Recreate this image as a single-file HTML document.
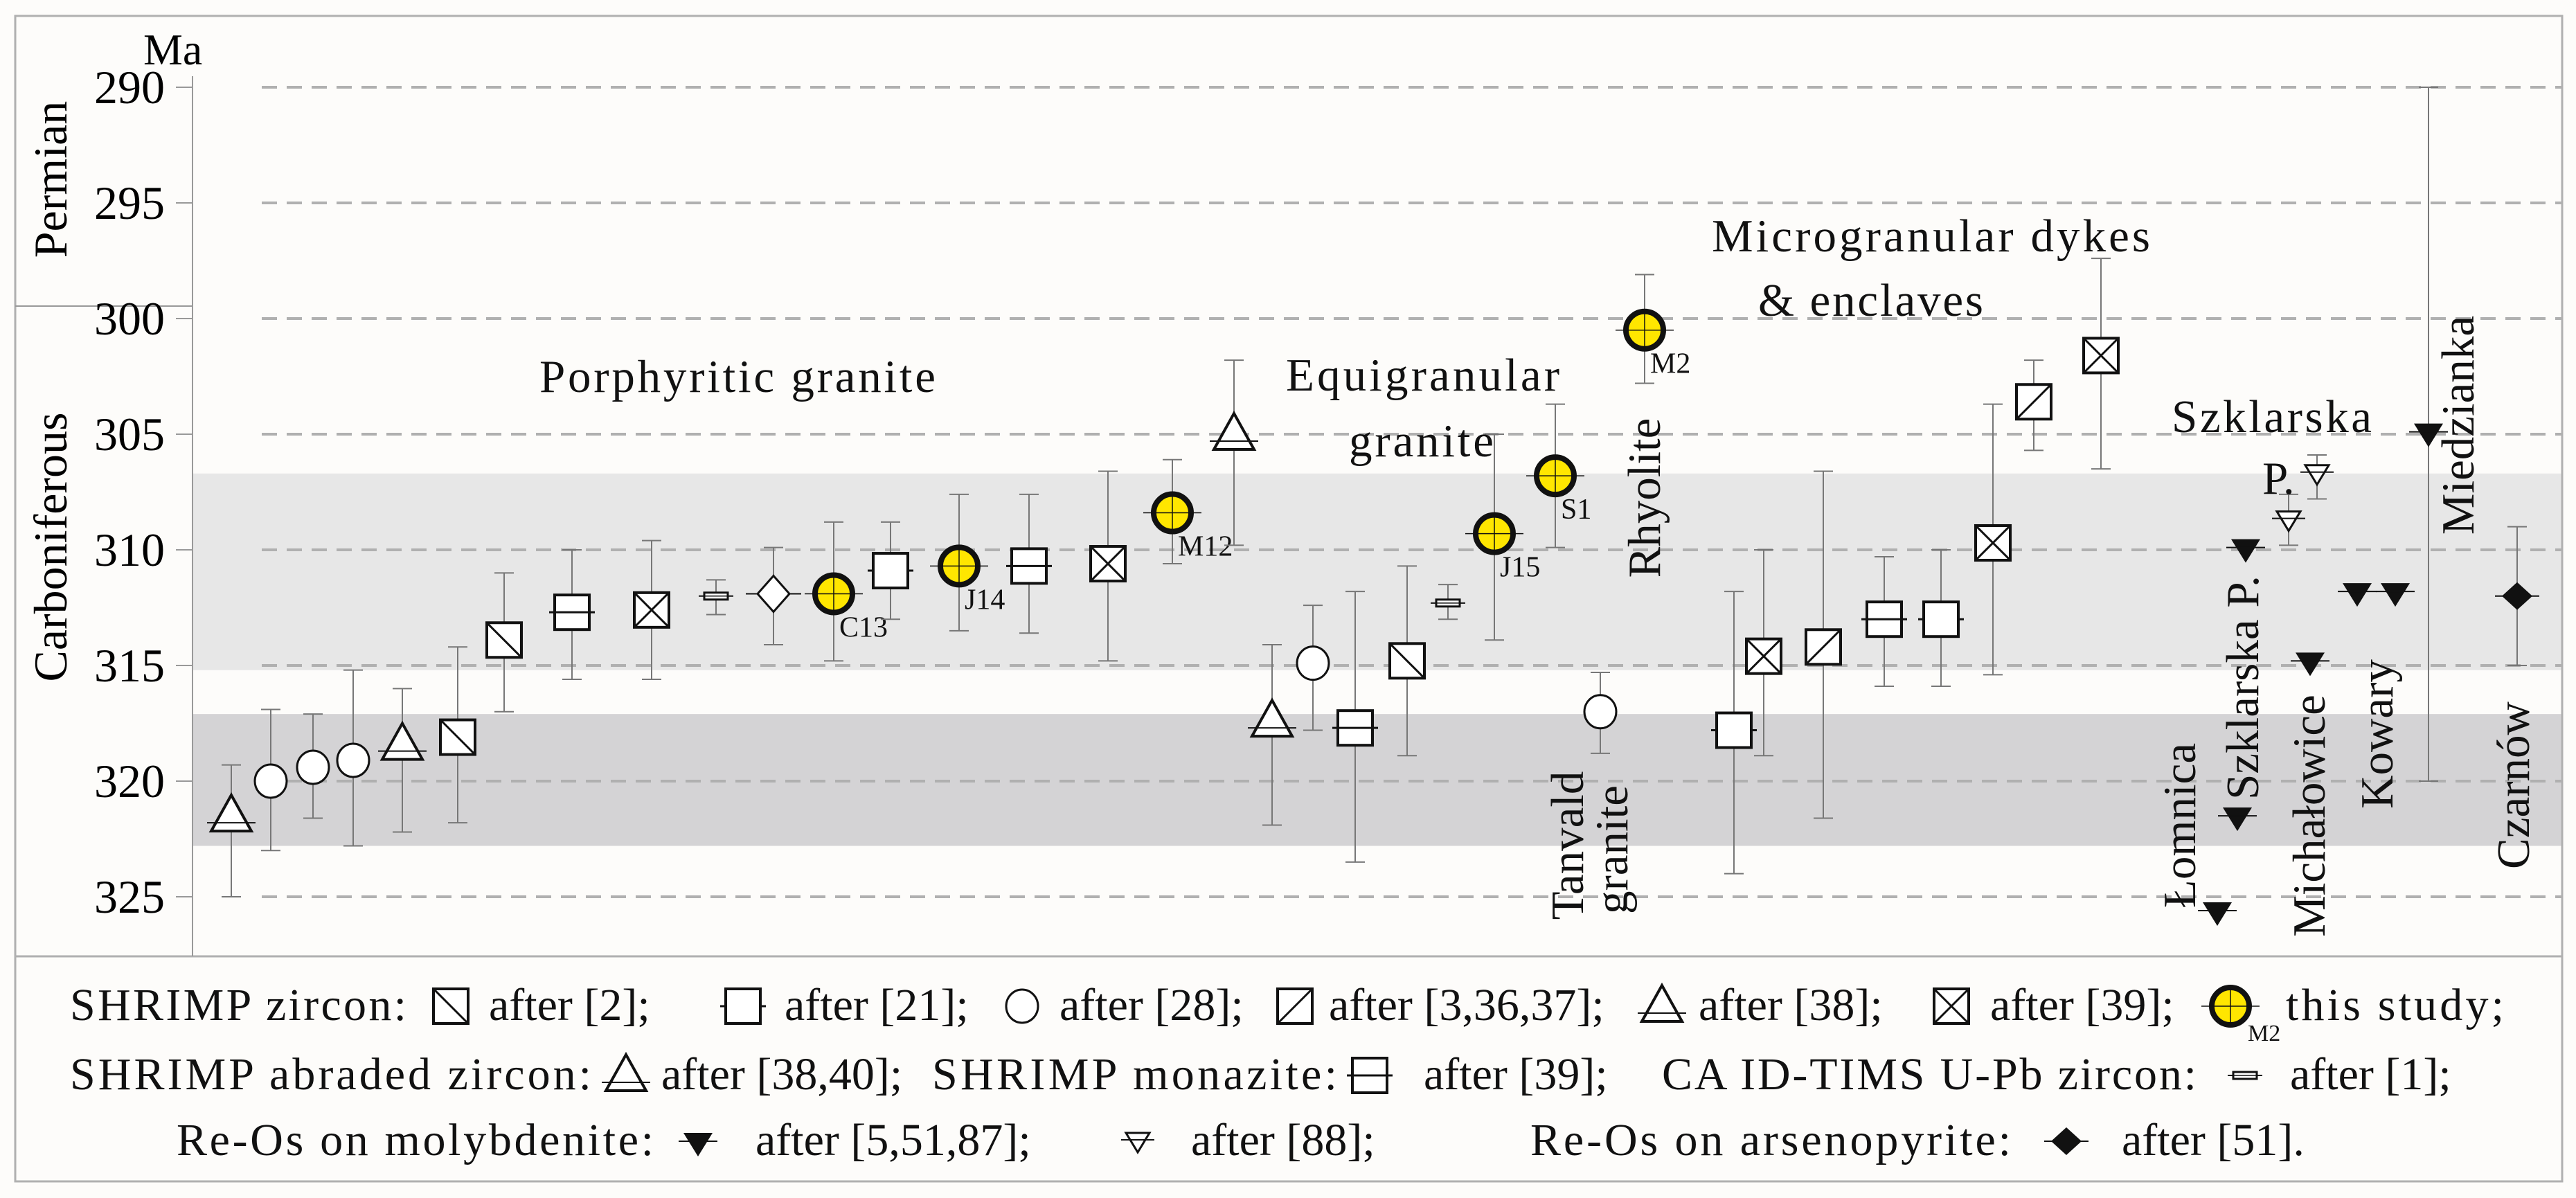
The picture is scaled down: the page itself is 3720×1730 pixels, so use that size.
<!DOCTYPE html>
<html><head><meta charset="utf-8"><style>
html,body{margin:0;padding:0;background:#fdfcfa;}
svg{display:block;font-family:"Liberation Serif",serif;}
</style></head><body>
<svg id="chart" width="3720" height="1730" viewBox="0 0 3720 1730" xmlns="http://www.w3.org/2000/svg">
<rect x="0" y="0" width="3720" height="1730" fill="#fdfcfa"/>
<g id="bands"></g>
<g id="grid"></g>
<g id="frame">
<rect x="22" y="23" width="3678" height="1683" fill="none" stroke="#b0b0b0" stroke-width="3"/>
<line x1="22" y1="1381" x2="3700" y2="1381" stroke="#b0b0b0" stroke-width="3"/>
<line x1="22" y1="442" x2="278" y2="442" stroke="#999" stroke-width="2"/>
<line x1="278" y1="110" x2="278" y2="1381" stroke="#999" stroke-width="2"/>
</g>
<text x="207" y="93" font-size="64">Ma</text>
<text transform="translate(96,259) rotate(-90)" text-anchor="middle" font-size="68">Permian</text>
<text transform="translate(96,790) rotate(-90)" text-anchor="middle" font-size="68">Carboniferous</text>
<g id="ticks"></g>
<g id="marks"></g>
<g id="labels" font-size="67" fill="#111">
<text x="779" y="566" textLength="572">Porphyritic granite</text>
<text x="1857" y="564" textLength="395">Equigranular</text>
<text x="1948" y="659" textLength="209">granite</text>
<text transform="translate(2397,719) rotate(-90)" text-anchor="middle">Rhyolite</text>
<text transform="translate(2286,1221) rotate(-90)" text-anchor="middle">Tanvald</text>
<text transform="translate(2350,1227) rotate(-90)" text-anchor="middle">granite</text>
<text x="2472" y="363" textLength="633">Microgranular dykes</text>
<text x="2539" y="456" textLength="325">&amp; enclaves</text>
<text x="3136" y="624" textLength="289">Szklarska</text>
<text x="3267" y="713">P.</text>
<text transform="translate(3170,1192) rotate(-90)" text-anchor="middle">Łomnica</text>
<text transform="translate(3261,993) rotate(-90)" text-anchor="middle">Szklarska P.</text>
<text transform="translate(3357,1178) rotate(-90)" text-anchor="middle">Michałowice</text>
<text transform="translate(3455,1060) rotate(-90)" text-anchor="middle">Kowary</text>
<text transform="translate(3572,614) rotate(-90)" text-anchor="middle">Miedzianka</text>
<text transform="translate(3652,1134) rotate(-90)" text-anchor="middle">Czarnów</text>
</g>
<g id="legend" font-size="66" fill="#111"></g>
</svg>
<script>
// ---- data ----
const tickValues = [290, 295, 300, 305, 310, 315, 320, 325];
const sampleX = [334,391,452,510,581,661,728,826,941,1034,1117,1204,1286,1385,1486,1600,1693,1782,1837,1896,1957,2032,2091,2158,2246,2311,2375,2504,2547,2633,2721,2803,2878,2937,3034,3202,3231,3243,3305,3346,3336,3404,3459,3507,3635];
const sampleType = ['tri','circ','circ','circ','tri','diag','diag','sqH','xsq','tims','diam','yel','sq','yel','sqH','xsq','yel','tri','tri','circ','sqH','diag','tims','yel','yel','circ','yel','sq','xsq','slash','sqH','sq','xsq','slash','xsq','ftri','ftri','ftri','otri','otri','ftri','ftri','ftri','ftri','fdiam'];
const ageValues = [321.8,320.0,319.4,319.1,318.7,318.1,313.9,312.7,312.6,312.0,311.9,311.9,310.9,310.7,310.7,310.6,308.4,305.3,317.7,314.9,317.7,314.8,312.3,309.3,306.8,317.0,300.5,317.8,314.6,314.2,313.0,313.0,309.7,303.6,301.6,325.6,321.5,309.9,308.7,306.7,314.8,311.8,311.8,304.9,312.0];
const errTop = [319.3,316.9,317.1,315.2,316.0,314.2,311.0,310.0,309.6,311.3,309.9,308.8,308.8,307.6,307.6,306.6,306.1,301.8,314.1,312.4,311.8,310.7,311.5,305.0,303.7,315.3,298.1,311.8,310.0,306.6,310.3,310.0,303.7,301.8,297.4,null,null,null,307.6,305.9,null,null,null,290.0,309.0];
const errBot = [325.0,323.0,321.6,322.8,322.2,321.8,317.0,315.6,315.6,312.8,314.1,314.8,313.0,313.5,313.6,314.8,310.6,309.8,321.9,317.8,323.5,318.9,313.0,313.9,309.9,318.8,302.8,324.0,318.9,321.6,315.9,315.9,315.4,305.7,306.5,null,null,null,309.8,307.8,null,null,null,320.0,315.0];
const sampleNames = ['','','','','','','','','','','','C13','','J14','','','M12','','','','','','','J15','S1','','M2','','','','','','','','','','','','','','','','','',''];
const bandRanges = [[306.7,315.2],[317.1,322.8]];

// ---- scales ----
function y(v){ return 126 + (v-290)*33.4; }
const NS='http://www.w3.org/2000/svg';
function mk(tag, attrs, parent){ const e=document.createElementNS(NS,tag); for(const k in attrs) e.setAttribute(k,attrs[k]); parent.appendChild(e); return e; }

const bands=document.getElementById('bands');
const bandFill=['#e7e7e7','#d4d3d5'];
bandRanges.forEach((b,i)=>{
  const r=mk('rect',{x:279,y:y(b[0]),width:3420,height:y(b[1])-y(b[0]),fill:bandFill[i]},bands);
  
  
});
const grid=document.getElementById('grid'), ticks=document.getElementById('ticks');
tickValues.forEach(v=>{
  const l=mk('line',{x1:378,x2:3700,y1:y(v),y2:y(v),stroke:'#b0b0b0','stroke-width':4,'stroke-dasharray':'22 14'},grid);
  
  
  const t=mk('text',{x:238,y:y(v)+23,'text-anchor':'end','font-size':68},ticks);
  t.textContent=v;
  
  
  const s=mk('line',{x1:254,x2:278,y1:y(v),y2:y(v),stroke:'#999','stroke-width':2},ticks);
  
  
});

function drawMarker(g,type,cx,cy){
  const K='#111';
  const sq=(h)=>mk('rect',{x:cx-h,y:cy-h,width:2*h,height:2*h,fill:'#fff',stroke:K,'stroke-width':4},g);
  if(type==='circ'){ mk('ellipse',{cx:cx,cy:cy,rx:23,ry:24,fill:'#fff',stroke:K,'stroke-width':3},g); }
  else if(type==='yel'){ mk('circle',{cx:cx,cy:cy,r:27,fill:'#ffe600',stroke:K,'stroke-width':8},g);
    mk('line',{x1:cx-42,x2:cx+42,y1:cy,y2:cy,stroke:K,'stroke-width':1.5},g);
    mk('line',{x1:cx,x2:cx,y1:cy-27,y2:cy+27,stroke:K,'stroke-width':1.5},g); }
  else if(type==='tri'){ mk('polygon',{points:`${cx},${cy-40} ${cx-29},${cy+12} ${cx+29},${cy+12}`,fill:'#fff',stroke:K,'stroke-width':4},g);
    mk('line',{x1:cx-35,x2:cx+35,y1:cy,y2:cy,stroke:K,'stroke-width':2},g); }
  else if(type==='diag'){ sq(25); mk('line',{x1:cx-25,y1:cy-25,x2:cx+25,y2:cy+25,stroke:K,'stroke-width':3},g); }
  else if(type==='slash'){ sq(25); mk('line',{x1:cx-25,y1:cy+25,x2:cx+25,y2:cy-25,stroke:K,'stroke-width':3},g); }
  else if(type==='xsq'){ sq(25); mk('line',{x1:cx-25,y1:cy-25,x2:cx+25,y2:cy+25,stroke:K,'stroke-width':3},g); mk('line',{x1:cx-25,y1:cy+25,x2:cx+25,y2:cy-25,stroke:K,'stroke-width':3},g); }
  else if(type==='sqH'){ sq(25); mk('line',{x1:cx-33,x2:cx+33,y1:cy,y2:cy,stroke:K,'stroke-width':3},g); }
  else if(type==='sq'){ mk('line',{x1:cx-33,x2:cx+33,y1:cy,y2:cy,stroke:K,'stroke-width':3},g); sq(25); }
  else if(type==='tims'){ mk('line',{x1:cx-25,x2:cx+25,y1:cy,y2:cy,stroke:K,'stroke-width':2},g); mk('rect',{x:cx-17,y:cy-5,width:34,height:10,fill:'#fff',stroke:K,'stroke-width':3},g); mk('line',{x1:cx-17,x2:cx+17,y1:cy,y2:cy,stroke:K,'stroke-width':1.5},g); }
  else if(type==='diam'){ mk('line',{x1:cx-40,x2:cx+40,y1:cy,y2:cy,stroke:K,'stroke-width':2},g); mk('polygon',{points:`${cx},${cy-26} ${cx+23},${cy} ${cx},${cy+26} ${cx-23},${cy}`,fill:'#fff',stroke:K,'stroke-width':3},g); }
  else if(type==='fdiam'){ mk('line',{x1:cx-32,x2:cx+32,y1:cy,y2:cy,stroke:K,'stroke-width':2},g); mk('polygon',{points:`${cx},${cy-20} ${cx+22},${cy} ${cx},${cy+20} ${cx-22},${cy}`,fill:K},g); }
  else if(type==='ftri'){ mk('polygon',{points:`${cx-21},${cy-12} ${cx+21},${cy-12} ${cx},${cy+22}`,fill:K},g); mk('line',{x1:cx-28,x2:cx+28,y1:cy,y2:cy,stroke:K,'stroke-width':2},g); }
  else if(type==='otri'){ mk('polygon',{points:`${cx-17},${cy-12} ${cx+17},${cy-12} ${cx},${cy+16}`,fill:'#fff',stroke:K,'stroke-width':3},g); mk('line',{x1:cx-24,x2:cx+24,y1:cy-2,y2:cy-2,stroke:K,'stroke-width':2},g); }
}

const marks=document.getElementById('marks');
ageValues.forEach((v,i)=>{
  const g=mk('g',{},marks);
  
  
  const cx=sampleX[i];
  if(errTop[i]!==null){
    const e=mk('g',{stroke:'#777','stroke-width':2},g);
    
    
    mk('line',{x1:cx,x2:cx,y1:y(errTop[i]),y2:y(errBot[i])},e);
    mk('line',{x1:cx-14,x2:cx+14,y1:y(errTop[i]),y2:y(errTop[i])},e);
    mk('line',{x1:cx-14,x2:cx+14,y1:y(errBot[i]),y2:y(errBot[i])},e);
  }
  drawMarker(g,sampleType[i],cx,y(v));
  if(sampleNames[i]){
    const t=mk('text',{x:cx+8,y:y(v)+62,'font-size':42,fill:'#111'},g);
    t.textContent=sampleNames[i];
    
    
  }
});

// ---- legend ----
const legend=document.getElementById('legend');
const L1=1473, L2=1573, L3=1668;
const legendTexts=[
 [101,L1,'SHRIMP zircon:',486],[706,L1,'after [2];',0],[1133,L1,'after [21];',0],[1530,L1,'after [28];',0],
 [1919,L1,'after [3,36,37];',0],[2453,L1,'after [38];',0],[2874,L1,'after [39];',0],[3301,L1,'this study;',315],
 [101,L2,'SHRIMP abraded zircon:',753],[955,L2,'after [38,40];',0],[1346,L2,'SHRIMP monazite:',585],[2056,L2,'after [39];',0],
 [2400,L2,'CA ID-TIMS U-Pb zircon:',772],[3307,L2,'after [1];',0],
 [255,L3,'Re-Os on molybdenite:',689],[1091,L3,'after [5,51,87];',0],[1720,L3,'after [88];',0],[2210,L3,'Re-Os on arsenopyrite:',694],[3064,L3,'after [51].',0]
];
legendTexts.forEach((d,i)=>{
  const a={x:d[0],y:d[1]}; if(d[3]) a.textLength=d[3];
  const t=mk('text',a,legend);
  t.textContent=d[2];
  
  
});
const legendSyms=[['diag',651,L1-20],['sq',1073,L1-20],['circ',1476,L1-20],['slash',1870,L1-20],['tri',2400,L1-10],['xsq',2818,L1-20],['yel',3221,L1-20],
 ['tri',904,L2-10],['sqH',1978,L2-20],['tims',3242,L2-20],['ftri',1008,L3-20],['otri',1643,L3-20],['fdiam',2984,L3-20]];
legendSyms.forEach((s,i)=>{
  const g=mk('g',{},legend);
  
  
  drawMarker(g,s[0],s[1],s[2]);
});
const m2=mk('text',{x:3246,y:L1+30,'font-size':34},legend);
m2.textContent='M2';


</script>
</body></html>
